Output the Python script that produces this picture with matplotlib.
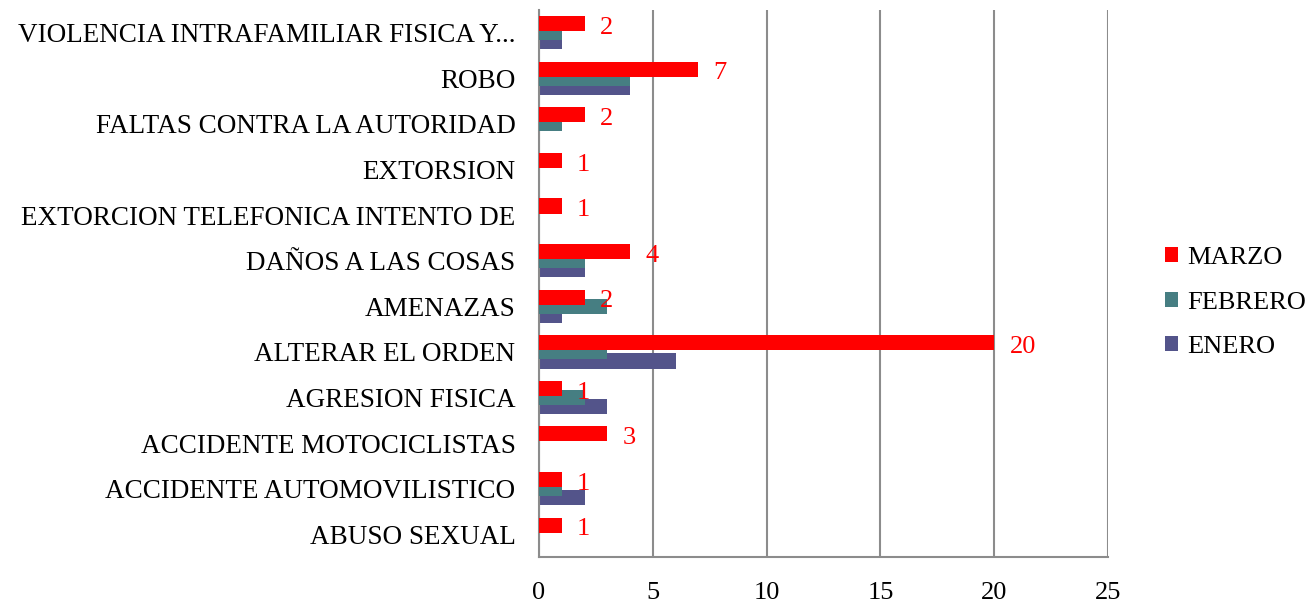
import numpy as np
import matplotlib.pyplot as plt

# Datos (de abajo hacia arriba)
categorias = ["ABUSO SEXUAL", "ACCIDENTE AUTOMOVILISTICO", "ACCIDENTE MOTOCICLISTAS",
              "AGRESION FISICA", "ALTERAR EL ORDEN", "AMENAZAS", "DAÑOS A LAS COSAS",
              "EXTORCION TELEFONICA INTENTO DE", "EXTORSION", "FALTAS CONTRA LA AUTORIDAD",
              "ROBO", "VIOLENCIA INTRAFAMILIAR FISICA Y..."]
enero = [0, 2, 0, 3, 6, 1, 2, 0, 0, 0, 4, 1]
febrero = [0, 1, 0, 2, 3, 3, 2, 0, 0, 1, 4, 1]
marzo = [1, 1, 3, 1, 20, 2, 4, 1, 1, 2, 7, 2]
xticks = [0, 5, 10, 15, 20, 25]

plt.rcParams['font.family'] = ['Liberation Serif', 'DejaVu Serif']

fig = plt.figure(figsize=(13.12, 6.03), dpi=100)
ax = fig.add_axes([539 / 1312, 1 - 557 / 603, 569 / 1312, 547 / 603])

y = np.arange(len(categorias))
h = 0.33
off = 0.2
ax.barh(y - off, enero, height=h, color='#53548A', label='ENERO', zorder=2)
ax.barh(y, febrero, height=h, color='#467E82', label='FEBRERO', zorder=3)
ax.barh(y + off, marzo, height=h, color='#FF0000', label='MARZO', zorder=4)

# etiquetas de MARZO
for yi, v in zip(y, marzo):
    ax.annotate(str(v), (v, yi + off), xytext=(11, -3), textcoords='offset points',
                va='center', ha='left', color='#FF0000', fontsize=19)

ax.set_xlim(0, 25)
ax.set_ylim(-0.5, len(categorias) - 0.5)
ax.set_xticks(xticks)
ax.set_xticklabels([str(t) for t in xticks], fontsize=19)
ax.set_yticks(y)
ax.set_yticklabels(categorias, fontsize=19.5)
ax.tick_params(axis='y', length=0, pad=17)
ax.tick_params(axis='x', length=0, pad=18)
ax.xaxis.grid(True, color='#8C8C8C', linewidth=1.5, zorder=0)
ax.set_axisbelow(True)
for s in ['top', 'right']:
    ax.spines[s].set_visible(False)
for s in ['left', 'bottom']:
    ax.spines[s].set_color('#8C8C8C')
    ax.spines[s].set_linewidth(1.5)

handles, labels = ax.get_legend_handles_labels()
ax.legend(handles[::-1], labels[::-1], loc='center left', bbox_to_anchor=(1.1, 0.465),
          frameon=False, fontsize=19, handlelength=0.5, handleheight=0.5,
          handletextpad=0.35, labelspacing=0.85, borderaxespad=0, borderpad=0)

fig.savefig('out.png', dpi=100)
